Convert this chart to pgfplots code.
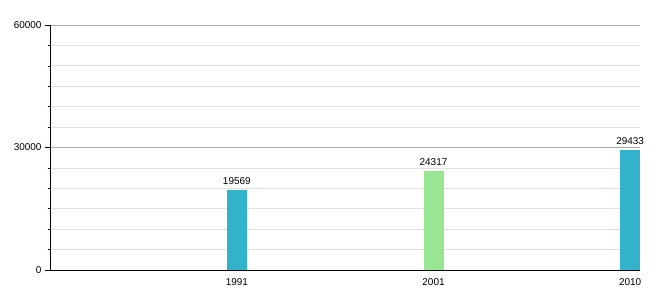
\documentclass[border=0pt]{standalone}
\usepackage{fontspec}
\setmainfont{Liberation Sans}
\usepackage{pgfplots}
\pgfplotsset{compat=1.18}
\definecolor{barblue}{RGB}{51,178,204}
\definecolor{bargreen}{RGB}{152,230,145}
\definecolor{majgrid}{RGB}{170,170,170}
\definecolor{mingrid}{RGB}{225,225,225}
\begin{document}
\begin{tikzpicture}[x=1bp,y=1bp]
\useasboundingbox (0,0) rectangle (660,300);
\begin{axis}[
  at={(50bp,30bp)}, anchor=south west,
  scale only axis, width=590bp, height=245bp,
  xmin=-0.95, xmax=2.05, ymin=0, ymax=60000,
  axis x line=bottom, axis y line=left,
  axis line style={-, black, line width=0.8pt},
  xtick={0,1,2}, xticklabels={1991,2001,2010},
  xtick style={draw=none},
  ytick={0,30000,60000}, minor ytick={5000,10000,15000,20000,25000,35000,40000,45000,50000,55000},
  tick align=outside,
  major tick length=5bp, minor tick length=2.5bp,
  ytick style={black, line width=0.6pt},
  minor tick style={black, line width=0.6pt},
  ymajorgrids, yminorgrids,
  major grid style={majgrid, line width=0.7pt},
  minor grid style={mingrid, line width=0.7pt},
  scaled y ticks=false,
  /pgf/number format/assume math mode=true,
  yticklabel={\pgfmathprintnumber[fixed,1000 sep={}]{\tick}},
  tick label style={font=\fontsize{10}{12}\selectfont, black},
  xticklabel style={yshift=0bp},
  ybar, bar width=20bp, bar shift=0pt,
  nodes near coords,
  nodes near coords style={font=\fontsize{10}{12}\selectfont, black, /pgf/number format/fixed, /pgf/number format/1000 sep={}, yshift=1.5bp},
  clip=false,
]
\addplot[fill=barblue, draw=none] coordinates {(0,19569)};
\addplot[fill=bargreen, draw=none] coordinates {(1,24317)};
\addplot[fill=barblue, draw=none] coordinates {(2,29433)};
\end{axis}
\end{tikzpicture}
\end{document}
